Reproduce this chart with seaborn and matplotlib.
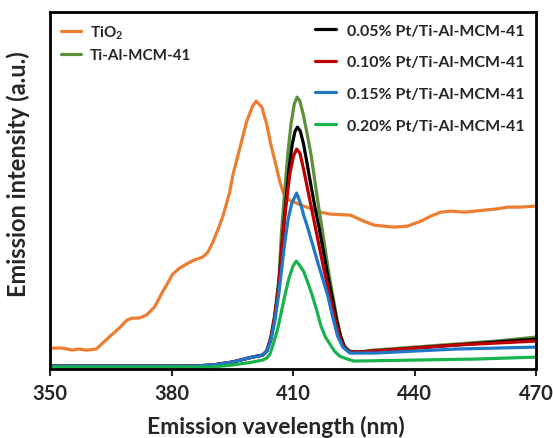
import numpy as np
import pandas as pd
import seaborn as sns
import matplotlib.pyplot as plt

# wavelengths (nm) and intensities (a.u.)
tio2_nm = [350, 353, 355.5, 357, 359, 361.4, 363, 364.6, 366, 367.6, 369, 370.3, 372, 373.8,
           375.8, 377.5, 380.3, 382, 383.7, 385.5, 387.7, 389, 390.2, 391.5, 392.7, 394.3,
           395.2, 396.8, 398.5, 400, 400.9, 402.3, 403.5, 404.5, 405.6, 406.7, 407.7, 409,
           411.4, 414, 416.7, 419.2, 424.2, 427.4, 430, 432.4, 435, 438.3, 441.6, 444, 446.5,
           449, 452.2, 455, 457.2, 460, 463, 466, 470]
tio2 = [21, 21, 19, 20, 19, 20, 26, 32, 37, 43, 49, 51, 51, 54,
        62, 75, 95, 101, 105, 109, 112, 117, 127, 140, 153, 176,
        195, 220, 247, 263, 268, 262, 245, 225, 207, 188, 175, 169,
        165, 161, 157, 155, 154, 148, 144, 143, 142, 143, 148, 153, 157,
        158, 157, 158, 159, 160, 162, 162, 163]

tial_nm = [350, 385, 390, 395, 400, 402.5, 403.5, 404.5, 405.5, 406.5, 407.2, 408, 408.7,
           409.5, 410.3, 411, 411.7, 412.5, 413.5, 414.5, 415.5, 416.4, 417.2, 418, 419,
           419.8, 420.8, 421.7, 422.7, 424, 426, 430, 440, 450, 460, 470]
tial = [3, 3, 4, 7, 12, 14, 18, 32, 55, 90, 140, 180, 215,
        245, 265, 272, 268, 255, 235, 213, 185, 160, 140, 118, 92,
        74, 51, 34, 23, 18, 17, 19, 22, 25, 28, 32]

pt05_nm = [350, 385, 390, 395, 400, 402.5, 403.5, 404.5, 405.5, 406.5, 407.5, 408.3, 409,
           409.8, 410.5, 411.1, 411.8, 412.6, 413.5, 414.5, 415.5, 416.5, 417.5, 418.5,
           419.6, 420.7, 421.7, 422.7, 424, 426, 430, 440, 450, 460, 470]
pt05 = [3, 3, 4, 7, 12, 14, 18, 30, 52, 85, 135, 170, 200,
        225, 238, 242, 238, 225, 205, 182, 160, 140, 118, 95,
        73, 50, 33, 22, 17, 17, 18, 21, 24, 27, 30]

pt10_nm = [350, 385, 390, 395, 400, 402.5, 403.5, 404.5, 405.5, 406.5, 407.4, 408.3, 409.2,
           410.1, 410.9, 411.7, 412.6, 413.5, 414.5, 415.5, 416.5, 417.5, 418.5, 419.5,
           420.6, 421.6, 422.7, 424, 426, 430, 440, 450, 460, 470]
pt10 = [3, 3, 4, 7, 12, 14, 18, 30, 52, 85, 130, 165, 195,
        213, 220, 216, 200, 182, 162, 142, 122, 102, 84, 66,
        46, 31, 21, 17, 17, 18, 21, 24, 26, 28]

pt15_nm = [350, 385, 390, 395, 400, 402.5, 403.5, 404.5, 405.5, 406.5, 407.3, 408, 408.8,
           409.7, 410.9, 411.8, 412.7, 413.5, 414.3, 415.3, 416.3, 417.5, 418.6, 419.8,
           421, 422.3, 424, 426, 430, 440, 450, 460, 470]
pt15 = [3, 3, 4, 7, 12, 14, 18, 28, 48, 76, 104, 128, 150,
        166, 176, 166, 153, 143, 132, 118, 104, 88, 73, 52,
        33, 22, 16, 16, 16, 18, 20, 21, 22]

pt20_nm = [350, 385, 390, 395, 400, 402.5, 403.5, 404.3, 405.2, 406.2, 407, 408, 409, 410,
           410.8, 411.6, 412.7, 413.7, 414.8, 415.9, 416.9, 418, 419.1, 420.2, 421.5, 422.7,
           425, 440, 455, 470]
pt20 = [2, 2, 2, 4, 7, 9, 11, 15, 26, 40, 55, 74, 91, 103,
        108, 104, 97, 86, 73, 58, 43, 32, 25, 18, 13, 11,
        8, 9, 10, 12]

left_labels = ["TiO$_\\mathbf{2}$", "Ti-Al-MCM-41"]
right_labels = ["0.05% Pt/Ti-Al-MCM-41", "0.10% Pt/Ti-Al-MCM-41",
                "0.15% Pt/Ti-Al-MCM-41", "0.20% Pt/Ti-Al-MCM-41"]
colors = ["#ED7D31", "#5E8F3A", "#000000", "#C00000", "#1F77C8", "#19B34D"]

sns.set_style("white")
plt.rcParams['font.family'] = ['Lato', 'DejaVu Sans']
plt.rcParams['font.weight'] = 'bold'
plt.rcParams['mathtext.fontset'] = 'custom'
plt.rcParams['mathtext.rm'] = 'Lato:bold'
plt.rcParams['mathtext.bf'] = 'Lato:bold'

fig = plt.figure(figsize=(5.53, 4.39), dpi=100)
ax = fig.add_axes([0.0904, 0.157, 0.879, 0.813])

series = [(tio2_nm, tio2), (tial_nm, tial), (pt05_nm, pt05),
          (pt10_nm, pt10), (pt15_nm, pt15), (pt20_nm, pt20)]
labels = left_labels + right_labels
lines = []
for (xs, ys), lab, col in zip(series, labels, colors):
    sns.lineplot(x=xs, y=ys, ax=ax, color=col, linewidth=2.3, label=lab,
                 estimator=None, sort=False, legend=False)
    lines.append(ax.lines[-1])

ax.set_xlim(350, 470)
ax.set_ylim(0, 357)
ax.set_xticks([350, 380, 410, 440, 470])
ax.set_yticks([])
ax.tick_params(axis='x', direction='out', length=5, width=1.5, labelsize=14.5,
               bottom=True, pad=5)
for lab in ax.get_xticklabels():
    lab.set_fontweight('bold')
for sp in ax.spines.values():
    sp.set_linewidth(2)
    sp.set_color('black')

ax.set_xlabel("Emission vavelength (nm)", fontsize=16.5, fontweight='bold')
ax.set_ylabel("Emission intensity (a.u.)", fontsize=17, fontweight='bold')
ax.xaxis.set_label_coords(0.465, -0.128)
ax.yaxis.set_label_coords(-0.042, 0.55)

leg1 = ax.legend(lines[:2], left_labels, loc='upper left', frameon=False,
                 prop={'size': 11, 'weight': 'bold'}, handlelength=1.3,
                 handletextpad=0.6, labelspacing=0.5, borderaxespad=0.3)
ax.add_artist(leg1)
ax.legend(lines[2:], right_labels, loc='upper right', frameon=False,
          prop={'size': 11.5, 'weight': 'bold'}, handlelength=1.3,
          handletextpad=0.7, labelspacing=1.1, borderaxespad=0.3)

fig.savefig("out.png", dpi=100)
